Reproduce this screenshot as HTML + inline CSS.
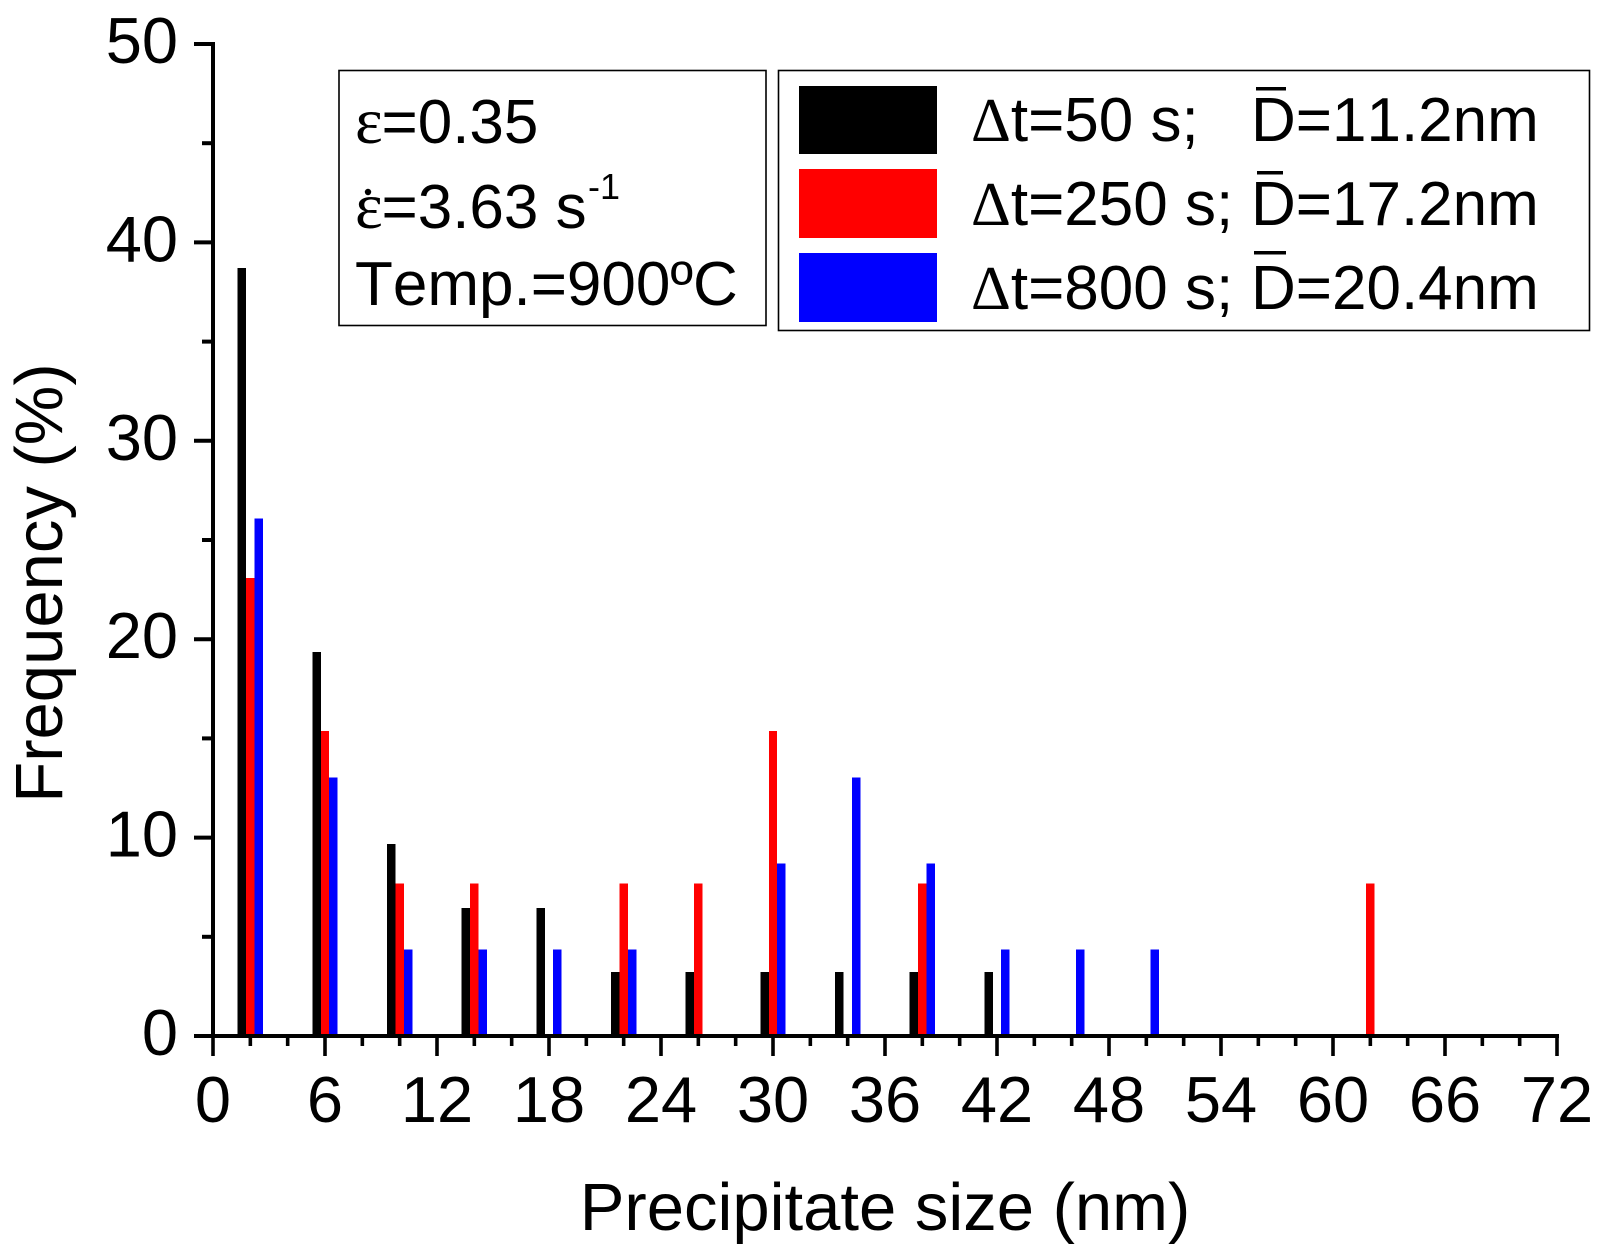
<!DOCTYPE html>
<html lang="en">
<head>
<meta charset="utf-8">
<title>Precipitate size distribution</title>
<style>
html,body{margin:0;padding:0;background:#fff;}
svg{display:block;}
text{font-family:"Liberation Sans",Arial,sans-serif;fill:#000;font-kerning:none;}
.serif{font-family:"Liberation Serif","Times New Roman",serif;}
.tick{font-size:65px;}
.inset{font-size:62px;}
.leg{font-size:62px;}
</style>
</head>
<body>
<svg id="chart" width="1614" height="1254" viewBox="0 0 1614 1254" xmlns="http://www.w3.org/2000/svg">
  <rect x="0" y="0" width="1614" height="1254" fill="#fff"/>
  <g id="marks"></g>
  <g id="axes"></g>

  <text x="885" y="1230" text-anchor="middle" font-size="67">Precipitate size (nm)</text>
  <text transform="translate(62,583) rotate(-90)" text-anchor="middle" font-size="67">Frequency (%)</text>

  <g>
    <rect x="339" y="70.5" width="427" height="255" fill="#fff" stroke="#000" stroke-width="1.6"/>
    <text class="inset serif" x="355" y="143" style="font-size:66px">ε</text>
    <text class="inset" x="381.5" y="143">=0.35</text>
    <text class="inset serif" x="355" y="228" style="font-size:66px">ε</text>
    <circle cx="368" cy="192" r="3.2" fill="#000"/>
    <text class="inset" x="381.5" y="228">=3.63 s</text>
    <text x="588" y="199" font-size="36">-1</text>
    <text class="inset" x="355" y="305">Temp.=900ºC</text>
  </g>

  <g>
    <rect x="778.5" y="70.5" width="811" height="260" fill="#fff" stroke="#000" stroke-width="1.6"/>
    <g>
      <rect x="799" y="86" width="138" height="68" fill="#000"/>
      <text class="leg" x="971" y="141"><tspan class="serif">Δ</tspan>t=50 s;</text>
      <rect x="1256" y="87" width="30" height="3.5" fill="#000"/>
      <text class="leg" x="1251" y="141">D=11.2nm</text>
    </g>
    <g>
      <rect x="799" y="169" width="138" height="69" fill="#f00"/>
      <text class="leg" x="971" y="225"><tspan class="serif">Δ</tspan>t=250 s;</text>
      <rect x="1257" y="171" width="26" height="3.5" fill="#000"/>
      <text class="leg" x="1251" y="225">D=17.2nm</text>
    </g>
    <g>
      <rect x="799" y="253" width="138" height="69" fill="#00f"/>
      <text class="leg" x="971" y="309"><tspan class="serif">Δ</tspan>t=800 s;</text>
      <rect x="1254" y="251" width="32" height="3.5" fill="#000"/>
      <text class="leg" x="1251" y="309">D=20.4nm</text>
    </g>
  </g>
</svg>
<script>
const sizes = [2, 6, 10, 14, 18, 22, 26, 30, 34, 38, 42, 46, 50, 62];
const black50s = [38.7, 19.35, 9.68, 6.45, 6.45, 3.23, 3.23, 3.23, 3.23, 3.23, 3.23, 0, 0, 0];
const red250s = [23.08, 15.38, 7.69, 7.69, 0, 7.69, 7.69, 15.38, 0, 7.69, 0, 0, 0, 7.69];
const blue800s = [26.09, 13.04, 4.35, 4.35, 4.35, 4.35, 0, 8.7, 13.04, 8.7, 4.35, 4.35, 4.35, 0];
const xTickLabels = [0, 6, 12, 18, 24, 30, 36, 42, 48, 54, 60, 66, 72];
const yTickLabels = [0, 10, 20, 30, 40, 50];

const SVGNS = 'http://www.w3.org/2000/svg';
const plot = { left: 213, right: 1557, top: 44, bottom: 1036 };
const xMax = 72, yMax = 50;
const xScale = v => plot.left + (v / xMax) * (plot.right - plot.left);
const yScale = v => plot.bottom - (v / yMax) * (plot.bottom - plot.top);

const marks = document.getElementById('marks');
const axes = document.getElementById('axes');
const barW = 0.45;

function drawSeries(values, color, slot, label) {
  values.forEach((v, i) => {
    if (v <= 0) return;
    const r = document.createElementNS(SVGNS, 'rect');
    const x0 = xScale(sizes[i] + slot * barW - barW / 2);
    const x1 = xScale(sizes[i] + slot * barW + barW / 2);
    r.setAttribute('x', x0);
    r.setAttribute('width', x1 - x0);
    r.setAttribute('y', yScale(v));
    r.setAttribute('height', yScale(0) - yScale(v));
    r.setAttribute('fill', color);
    r.setAttribute('shape-rendering', 'crispEdges');
    
    
    marks.appendChild(r);
  });
}
drawSeries(black50s, '#000', -1, '50s');
drawSeries(red250s, '#f00', 0, '250s');
drawSeries(blue800s, '#00f', 1, '800s');

function line(x1, y1, x2, y2, w, name) {
  const l = document.createElementNS(SVGNS, 'line');
  l.setAttribute('x1', x1);
  l.setAttribute('y1', y1);
  l.setAttribute('x2', x2);
  l.setAttribute('y2', y2);
  l.setAttribute('stroke', '#000');
  l.setAttribute('stroke-width', w);
  
  
  axes.appendChild(l);
}
function label(x, y, s, anchor, name) {
  const t = document.createElementNS(SVGNS, 'text');
  t.setAttribute('x', x);
  t.setAttribute('y', y);
  t.setAttribute('text-anchor', anchor);
  t.setAttribute('class', 'tick');
  
  
  t.textContent = s;
  axes.appendChild(t);
}

line(plot.left, plot.top - 2, plot.left, plot.bottom + 2, 4, 'y-axis-line');
line(plot.left - 2, plot.bottom, plot.right + 2, plot.bottom, 4, 'x-axis-line');

for (let v = 0; v <= xMax; v += 2) {
  const major = xTickLabels.includes(v);
  line(xScale(v), plot.bottom, xScale(v), plot.bottom + (major ? 20 : 10), 3.6, major ? 'x-major-tick' : 'x-minor-tick');
}
for (let v = 0; v <= yMax; v += 5) {
  const major = yTickLabels.includes(v);
  line(plot.left - (major ? 19 : 11), yScale(v), plot.left, yScale(v), 4, major ? 'y-major-tick' : 'y-minor-tick');
}
xTickLabels.forEach(v => label(xScale(v), 1122, String(v), 'middle', 'x-tick-label'));
yTickLabels.forEach(v => label(178, yScale(v) + 19, String(v), 'end', 'y-tick-label'));
</script>
</body>
</html>
